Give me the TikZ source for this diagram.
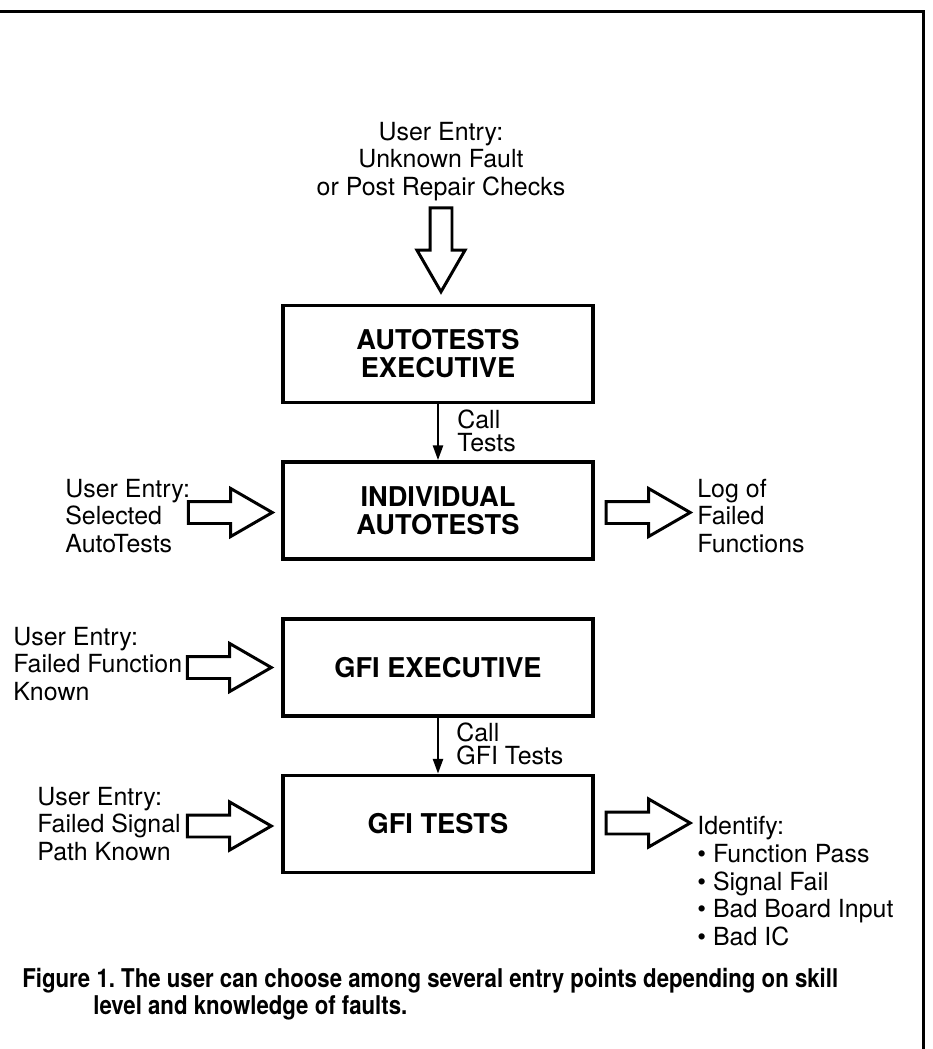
\documentclass[tikz,border=0pt]{standalone}
\usepackage{fontspec}
\setmainfont{TeX Gyre Heros}
\newfontfamily\capfont[FakeStretch=0.86]{TeX Gyre Heros}
\usetikzlibrary{positioning,arrows.meta,shapes.arrows,calc}

\begin{document}
\begin{tikzpicture}[x=0.02cm, y=-0.02cm,
  box/.style={rectangle, draw, line width=2pt, minimum width=6.2cm, minimum height=1.94cm, align=center, font=\fontsize{15.5}{15.9}\selectfont\bfseries},
  lbl/.style={inner sep=0pt, align=left, anchor=north west, font=\fontsize{14.2}{15.5}\selectfont},
  call/.style={inner sep=0pt, align=left, anchor=north west, font=\fontsize{14.2}{13}\selectfont},
  fat/.style={single arrow, draw, line width=1.7pt, minimum height=1.68cm, inner xsep=0pt, inner ysep=0.19cm, single arrow head extend=0.26cm, single arrow tip angle=60},
  link/.style={line width=1.5pt, -{Triangle[length=0.3cm,width=0.2cm]}}
]
\useasboundingbox (0,0) rectangle (933,1049);
% Frame
\draw[line width=1.7pt] (0,11.5) -- (923,11.5) -- (923,1049);
% Main column
\node[box] (ae) at (438,354) {AUTOTESTS\\EXECUTIVE};
\node[box] (ia) at (438,510.5) {INDIVIDUAL\\AUTOTESTS};
\node[box] (ge) at (438,667.5) {GFI EXECUTIVE};
\node[box] (gt) at (438,824) {GFI TESTS};
\draw[link] (ae) -- (ia);
\draw[link] (ge) -- (gt);
\node[call] (callT) at (457,410) {Call\\Tests};
\node[call] (callG) at (456,723) {Call\\GFI Tests};
% Entry points
\node[lbl, anchor=north, align=center] (topEntry) at (441,122) {User Entry:\\Unknown Fault\\or Post Repair Checks};
\node[fat, rotate=-90, anchor=tip] (inTop) at ($(ae.north)+(3,-9)$) {};
\node[lbl] (selEntry) at (65,479) {User Entry:\\Selected\\AutoTests};
\node[fat, anchor=tip] (inSel) at ($(ia.west)+(-6,2)$) {};
\node[lbl] (funEntry) at (13,627) {User Entry:\\Failed Function\\Known};
\node[fat, anchor=tip] (inFun) at ($(ge.west)+(-7,0)$) {};
\node[lbl] (sigEntry) at (37,787) {User Entry:\\Failed Signal\\Path Known};
\node[fat, anchor=tip] (inSig) at ($(gt.west)+(-7,2)$) {};
% Outputs
\node[fat, anchor=tail] (outLog) at ($(ia.east)+(10,2)$) {};
\node[lbl] (logOut) at (697,479) {Log of\\Failed\\Functions};
\node[fat, anchor=tail] (outIdent) at ($(gt.east)+(10,-1)$) {};
\node[lbl, font=\fontsize{14.2}{15.8}\selectfont] (identOut) at (697,816) {Identify:\\\textbullet\ Function Pass\\\textbullet\ Signal Fail\\\textbullet\ Bad Board Input\\\textbullet\ Bad IC};
% Caption
\node[inner sep=0pt, anchor=north west, align=left, font=\capfont\bfseries\fontsize{14.7}{15.2}\selectfont] (caption) at (22,968) {Figure 1.\ The user can choose among several entry points depending on skill\\\hspace*{1.42cm}level and knowledge of faults.};
\end{tikzpicture}
\end{document}
